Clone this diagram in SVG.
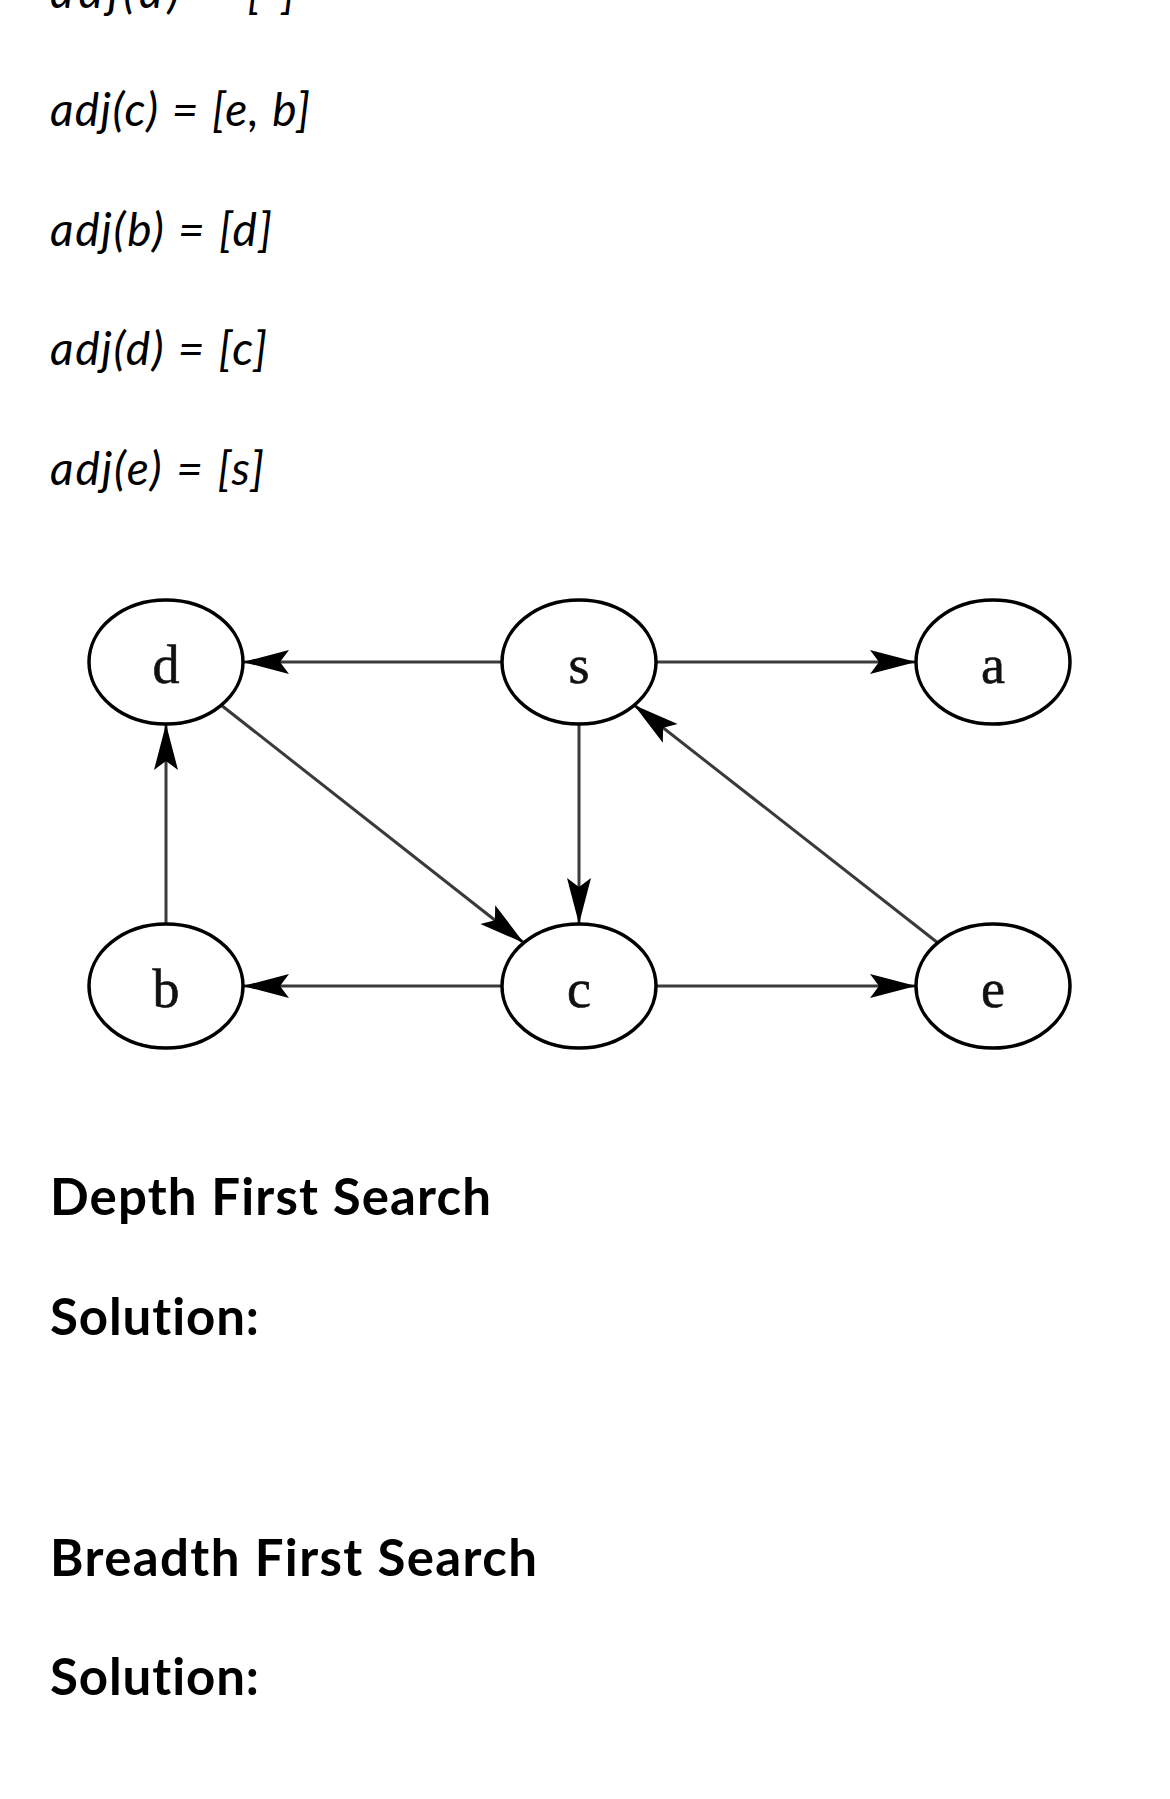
<svg xmlns="http://www.w3.org/2000/svg" width="1170" height="1799" viewBox="0 0 1170 1799">
<style>
.adj{font-family:Lato,"Liberation Sans",sans-serif;font-style:italic;font-size:46px;fill:#000;font-variant-ligatures:none}
.head{font-family:Lato,"Liberation Sans",sans-serif;font-weight:bold;font-size:51px;fill:#000;font-variant-ligatures:none}
.node ellipse{fill:#fff;stroke:#000;stroke-width:3.5}
.node text{font-family:"Liberation Serif","Times New Roman",serif;font-size:54px;text-anchor:middle;fill:#111;stroke:#111;stroke-width:0.6}
.edge{stroke:#3a3a3a;stroke-width:3;fill:none;marker-end:url(#arr)}
</style>
<defs>
<marker id="arr" markerUnits="userSpaceOnUse" markerWidth="60" markerHeight="30" viewBox="-50 -15 55 30" refX="0" refY="0" orient="auto">
<path d="M0,0 L-46,-12 L-37,0 L-46,12 Z" fill="#000"/>
</marker>
</defs>
<rect width="1170" height="1799" fill="#fff"/>
<g id="adj-text">
<text class="adj" x="50" y="8" textLength="245">adj(a) = [ ]</text>
<text class="adj" x="50" y="126" textLength="260">adj(c) = [e, b]</text>
<text class="adj" x="50" y="246" textLength="222">adj(b) = [d]</text>
<text class="adj" x="50" y="365" textLength="217">adj(d) = [c]</text>
<text class="adj" x="50" y="485" textLength="214">adj(e) = [s]</text>
</g>
<g id="connectors">
<line class="edge" x1="502" y1="662" x2="243" y2="662"/>
<line class="edge" x1="656" y1="662" x2="916" y2="662"/>
<line class="edge" x1="579" y1="724" x2="579" y2="924"/>
<line class="edge" x1="166" y1="924" x2="166" y2="724"/>
<line class="edge" x1="502" y1="986" x2="243" y2="986"/>
<line class="edge" x1="656" y1="986" x2="916" y2="986"/>
<line class="edge" x1="221" y1="705" x2="524" y2="943"/>
<line class="edge" x1="938" y1="943" x2="634" y2="705"/>
</g>
<g id="node-d" class="node"><ellipse cx="166" cy="662" rx="77" ry="62"/><text x="166" y="683">d</text></g>
<g id="node-s" class="node"><ellipse cx="579" cy="662" rx="77" ry="62"/><text x="579" y="683">s</text></g>
<g id="node-a" class="node"><ellipse cx="993" cy="662" rx="77" ry="62"/><text x="993" y="683">a</text></g>
<g id="node-b" class="node"><ellipse cx="166" cy="986" rx="77" ry="62"/><text x="166" y="1007">b</text></g>
<g id="node-c" class="node"><ellipse cx="579" cy="986" rx="77" ry="62"/><text x="579" y="1007">c</text></g>
<g id="node-e" class="node"><ellipse cx="993" cy="986" rx="77" ry="62"/><text x="993" y="1007">e</text></g>
<g id="headings">
<text class="head" x="50" y="1215" textLength="441">Depth First Search</text>
<text class="head" x="50" y="1335" textLength="209">Solution:</text>
<text class="head" x="50" y="1576" textLength="487">Breadth First Search</text>
<text class="head" x="50" y="1695" textLength="209">Solution:</text>
</g>
</svg>
